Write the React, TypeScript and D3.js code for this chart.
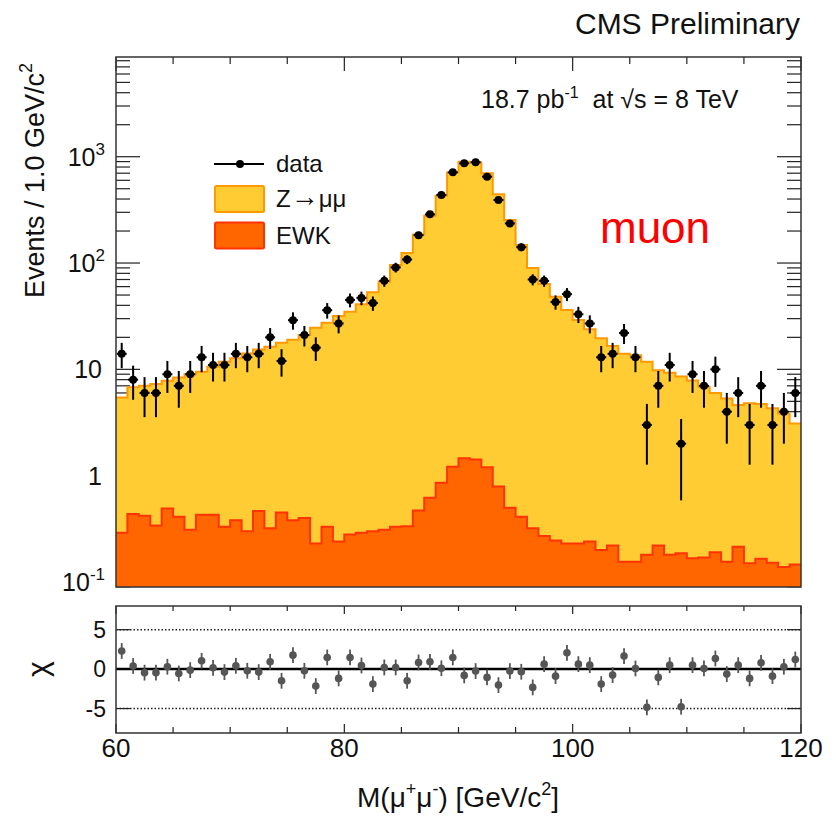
import React, { useEffect } from 'react';
import * as d3 from 'd3';

// 1 GeV bins from 60 to 120 GeV
const binEdges = d3.range(60, 121, 1);

// observed events per bin
const dataCounts = [
  14, 8, 6, 6, 9, 7, 9, 13, 11, 11,
  14, 13, 14, 20, 12, 29, 21, 16, 36, 27,
  45, 47, 42, 68, 91, 108, 183, 287, 437, 713,
  867, 886, 649, 392, 236, 141, 70, 68, 43, 51,
  33, 27, 13, 14, 22, 13, 3, 7, 11, 2,
  9, 7, 10, 4, 6, 3, 7, 3, 4, 6,
];

// Z -> mumu expectation (stacked on top of EWK)
const zmumu = [
  5.16, 6.37, 6.58, 6.96, 7.31, 7.99, 8.69, 9.07, 10.17, 11.47,
  12.32, 13.8, 14.94, 15.98, 17.35, 18.62, 20.6, 24.37, 27.07, 31.56,
  34.62, 40.7, 52.7, 66.7, 95.7, 123.7, 185.5, 277.4, 429.1, 710.8,
  896.5, 884.6, 696.8, 442.2, 253.5, 147.6, 89.7, 63.2, 48.0, 35.9,
  28.9, 23.6, 19.4, 16.4, 13.9, 13.4, 11.6, 9.6, 9.1, 8.4,
  7.7, 6.7, 5.8, 5.15, 4.4, 4.65, 4.55, 4.15, 3.7, 2.95,
];

// electroweak background
const ewk = [
  0.29, 0.435, 0.42, 0.34, 0.49, 0.41, 0.31, 0.43, 0.43, 0.33,
  0.38, 0.30, 0.465, 0.32, 0.45, 0.38, 0.40, 0.23, 0.33, 0.24,
  0.28, 0.29, 0.30, 0.31, 0.33, 0.335, 0.47, 0.62, 0.86, 1.21,
  1.46, 1.42, 1.2, 0.79, 0.50, 0.41, 0.32, 0.27, 0.245, 0.23,
  0.23, 0.24, 0.2, 0.22, 0.155, 0.155, 0.18, 0.22, 0.18, 0.186,
  0.167, 0.17, 0.19, 0.155, 0.214, 0.15, 0.165, 0.152, 0.138, 0.146,
];

// pulls shown in the lower pad
const chi = [
  2.3, 0.4, -0.45, -0.45, 0.3, -0.55, -0.13, 1.05, 0.17, -0.38,
  0.42, -0.21, -0.38, 0.93, -1.48, 1.77, -0.21, -2.15, 1.48, -1.18,
  1.48, 0.46, -1.9, 0.21, 0.21, -1.48, 0.84, 0.93, 0.1, 1.48,
  -0.8, -0.25, -1.05, -2.03, -0.25, -0.34, -2.32, 0.63, -0.89, 2.07,
  0.63, 0.5, -1.9, -0.76, 1.65, 0.08, -4.85, -1.05, 0.5, -4.77,
  0.5, 0.08, 1.35, -0.63, 0.5, -1.18, 0.8, -0.89, 0.3, 1.22,
];

const xMajor = [60, 80, 100, 120];
const xMinor = d3.range(60, 121, 5);
const logMajor = [0.1, 1, 10, 100, 1000];
const chiLabels = [5, 0, -5];

const FONT = '"Liberation Sans", Arial, Helvetica, sans-serif';

const App = () => {
  useEffect(() => {
    document.body.style.margin = '0';
  }, []);

  const left = 116, right = 801;
  const top1 = 57, bot1 = 587;
  const top2 = 606, bot2 = 733;

  const x = d3.scaleLinear().domain([60, 120]).range([left, right]);
  const y = d3.scaleLog().domain([0.0897, 8670]).range([bot1, top1]);
  const yc = d3.scaleLinear().domain([-8.1, 8]).range([bot2, top2]);

  const total = zmumu.map((z, i) => z + ewk[i]);
  const stepPts = (vals: number[]) =>
    binEdges.map((e, i) => [e, vals[Math.min(i, vals.length - 1)]] as [number, number]);

  const area = d3.area<[number, number]>()
    .x(d => x(d[0]))
    .y0(bot1)
    .y1(d => y(d[1]))
    .curve(d3.curveStepAfter);
  const line = d3.line<[number, number]>()
    .x(d => x(d[0]))
    .y(d => y(d[1]))
    .curve(d3.curveStepAfter);

  const minorLog: number[] = [];
  for (let p = -2; p <= 3; p++) {
    for (let k = 2; k <= 9; k++) {
      const v = k * Math.pow(10, p);
      if (v > 0.0897 && v < 8670) minorLog.push(v);
    }
  }

  const center = (i: number) => x(binEdges[i] + 0.5);

  return (
    <svg width={836} height={819} style={{ position: 'absolute', left: 0, top: 0, background: '#fff' }}
      fontFamily={FONT}>
      <rect x={0} y={0} width={836} height={819} fill="#fff" />

      {/* top pad axis ticks, drawn under the histograms */}
      <g stroke="#222" strokeWidth={1.2}>
        {logMajor.map(v => (
          <g key={'lm' + v}>
            <line x1={left} x2={left + 24} y1={y(v)} y2={y(v)} />
            <line x1={right} x2={right - 24} y1={y(v)} y2={y(v)} />
          </g>
        ))}
        {minorLog.map(v => (
          <g key={'ln' + v}>
            <line x1={left} x2={left + 14} y1={y(v)} y2={y(v)} />
            <line x1={right} x2={right - 14} y1={y(v)} y2={y(v)} />
          </g>
        ))}
        {xMinor.map(v => {
          const len = xMajor.includes(v) ? 14 : 7;
          return <line key={'tx' + v} x1={x(v)} x2={x(v)} y1={top1} y2={top1 + len} />;
        })}
      </g>

      {/* stacked histograms */}
      <path d={area(stepPts(total)) || ''} fill="#FFCC33" />
      <path d={line(stepPts(total)) || ''} fill="none" stroke="#FF9900" strokeWidth={2} />
      <path d={area(stepPts(ewk)) || ''} fill="#FF6600" />
      <path d={line(stepPts(ewk)) || ''} fill="none" stroke="#FF3300" strokeWidth={2} />

      {/* data points */}
      {dataCounts.map((n, i) => {
        const err = Math.sqrt(n);
        const cx = center(i);
        return (
          <g key={'d' + i} stroke="#000" strokeWidth={2}>
            <line x1={cx} x2={cx} y1={y(n + err)} y2={y(Math.max(n - err, 0.0897))} />
            <line x1={cx - 5} x2={cx + 5} y1={y(n)} y2={y(n)} />
            <circle cx={cx} cy={y(n)} r={4} fill="#000" stroke="none" />
          </g>
        );
      })}

      <rect x={left} y={top1} width={right - left} height={bot1 - top1} fill="none" stroke="#333" strokeWidth={1.5} />

      {/* y tick labels */}
      <g fontSize={25} fill="#111" textAnchor="end">
        <text x={105} y={y(1000) + 9}>10<tspan dy={-11} fontSize={17}>3</tspan></text>
        <text x={105} y={y(100) + 9}>10<tspan dy={-11} fontSize={17}>2</tspan></text>
        <text x={102} y={y(10) + 9}>10</text>
        <text x={102} y={y(1) + 9}>1</text>
        <text x={105} y={y(0.1) + 9}>10<tspan dy={-11} fontSize={17}>-1</tspan></text>
      </g>
      <text transform="translate(44,298) rotate(-90)" fontSize={27} fill="#111">
        Events / 1.0 GeV/c<tspan dy={-12} fontSize={18}>2</tspan>
      </text>

      {/* legend */}
      <line x1={214} x2={264} y1={164} y2={164} stroke="#000" strokeWidth={2} />
      <circle cx={240} cy={164} r={4} fill="#000" />
      <rect x={215} y={186} width={49} height={26} fill="#FFCC33" stroke="#FF9900" strokeWidth={2} rx={1.5} />
      <rect x={215} y={222.5} width={49} height={26} fill="#FF6600" stroke="#FF3300" strokeWidth={2} rx={1.5} />
      <g fontSize={24} fill="#111">
        <text x={276} y={172}>data</text>
        <text x={276} y={207}>Z<tspan fontSize={28} dy={-1}>→</tspan><tspan dy={1}>μμ</tspan></text>
        <text x={276} y={244}>EWK</text>
      </g>

      {/* annotations */}
      <text x={800} y={34} fontSize={30} textAnchor="end" fill="#111">CMS Preliminary</text>
      <text x={481} y={108} fontSize={25} fill="#111">
        18.7 pb<tspan dy={-10} fontSize={16}>-1</tspan>
        <tspan dy={10}>{'\u00a0 at \u221As = 8 TeV'}</tspan>
      </text>
      <text x={600} y={243} fontSize={44} fill="#FF0000">muon</text>

      {/* lower pad */}
      <g stroke="#222" strokeWidth={1.5} strokeDasharray="1.5,2">
        <line x1={left} x2={right} y1={yc(5)} y2={yc(5)} />
        <line x1={left} x2={right} y1={yc(-5)} y2={yc(-5)} />
      </g>
      <line x1={left} x2={right} y1={yc(0)} y2={yc(0)} stroke="#000" strokeWidth={2.5} />
      {chi.map((c, i) => {
        const cx = center(i);
        return (
          <g key={'c' + i}>
            <line x1={cx} x2={cx} y1={yc(c + 1)} y2={yc(c - 1)} stroke="#555" strokeWidth={1.8} />
            <circle cx={cx} cy={yc(c)} r={3.8} fill="#555" />
          </g>
        );
      })}
      <g stroke="#222" strokeWidth={1.2}>
        {xMinor.map(v => {
          const major = xMajor.includes(v);
          return (
            <g key={'bx' + v}>
              <line x1={x(v)} x2={x(v)} y1={top2} y2={top2 + (major ? 8 : 5)} />
              <line x1={x(v)} x2={x(v)} y1={bot2} y2={bot2 - (major ? 9 : 6)} />
            </g>
          );
        })}
        {[5, -5].map(v => (
          <g key={'cy' + v}>
            <line x1={left} x2={left + 14} y1={yc(v)} y2={yc(v)} />
            <line x1={right} x2={right - 14} y1={yc(v)} y2={yc(v)} />
          </g>
        ))}
      </g>
      <rect x={left} y={top2} width={right - left} height={bot2 - top2} fill="none" stroke="#333" strokeWidth={1.5} />
      <g fontSize={23} fill="#111" textAnchor="end">
        {chiLabels.map(v => (
          <text key={'cl' + v} x={106} y={yc(v) + 8}>{v}</text>
        ))}
      </g>
      <text transform="translate(48,669) rotate(-90)" fontSize={30} textAnchor="middle" fill="#111">χ</text>

      {/* x axis labels */}
      <g fontSize={26} fill="#111" textAnchor="middle">
        {xMajor.map(v => (
          <text key={'xl' + v} x={x(v)} y={757}>{v}</text>
        ))}
      </g>
      <text x={458} y={807} fontSize={28} textAnchor="middle" fill="#111">
        M(μ<tspan dy={-12} fontSize={18}>+</tspan><tspan dy={12}>μ</tspan>
        <tspan dy={-12} fontSize={18}>-</tspan><tspan dy={12}>) [GeV/c</tspan>
        <tspan dy={-12} fontSize={18}>2</tspan><tspan dy={12}>]</tspan>
      </text>
    </svg>
  );
};

export default App;
